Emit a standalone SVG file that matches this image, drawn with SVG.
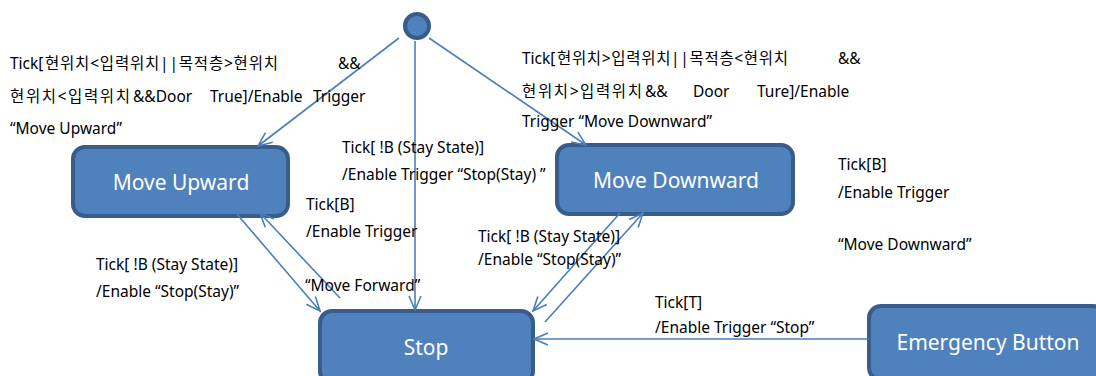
<svg xmlns="http://www.w3.org/2000/svg" width="1096" height="376" viewBox="0 0 1096 376">
  <style>
    .node rect { fill: #4f81bd; stroke: #385d8a; stroke-width: 4; }
    .node text { fill: #ffffff; font-family: "Noto Sans", "Noto Sans CJK KR", sans-serif; font-size: 21px; text-anchor: middle; }
    .conn line { stroke: #4a7ebb; stroke-width: 1.6; fill: none; marker-end: url(#arr); }
    .lbl { fill: #000000; font-family: "Noto Sans", "Noto Sans CJK KR", sans-serif; font-size: 15.5px; }
  </style>
  <defs>
    <marker id="arr" viewBox="0 0 16 14" refX="15" refY="7" markerWidth="16" markerHeight="14" markerUnits="userSpaceOnUse" orient="auto">
      <path d="M1,1 L15,7 L1,13" fill="none" stroke="#4a7ebb" stroke-width="1.6"/>
    </marker>
  </defs>
  <rect width="1096" height="376" fill="#ffffff"/>

  <g id="initial" class="node">
    <circle cx="417" cy="26" r="12" fill="#4f81bd" stroke="#385d8a" stroke-width="4"/>
  </g>
  <g id="move-upward" class="node">
    <rect x="73" y="147" width="215" height="69" rx="12"/>
    <text x="181" y="190">Move Upward</text>
  </g>
  <g id="move-downward" class="node">
    <rect x="557" y="145" width="236" height="69" rx="12"/>
    <text x="676" y="188">Move Downward</text>
  </g>
  <g id="stop" class="node">
    <rect x="320" y="311" width="213" height="72" rx="12"/>
    <text x="426" y="355">Stop</text>
  </g>
  <g id="emergency-button" class="node">
    <rect x="869" y="306" width="236" height="74" rx="12"/>
    <text x="988" y="350">Emergency Button</text>
  </g>

  <g id="connectors" class="conn">
    <line x1="399" y1="38" x2="258" y2="146"/>
    <line x1="429" y1="38" x2="586" y2="145"/>
    <line x1="415" y1="41" x2="415" y2="310"/>
    <line x1="236" y1="213" x2="320" y2="311"/>
    <line x1="340" y1="298" x2="260" y2="213"/>
    <line x1="620" y1="213" x2="533" y2="311"/>
    <line x1="545" y1="322" x2="643" y2="213"/>
    <line x1="869" y1="339" x2="534" y2="339"/>
  </g>

  <g id="labels" class="lbl">
    <text x="10" y="69">Tick[<tspan x="45" textLength="233" lengthAdjust="spacing">현위치&lt;입력위치||목적층&gt;현위치</tspan></text>
    <text x="338" y="69">&amp;&amp;</text>
    <text x="10" y="102"><tspan textLength="120" lengthAdjust="spacing">현위치&lt;입력위치</tspan><tspan x="133">&amp;&amp;Door</tspan></text>
    <text x="210" y="102">True]/Enable</text>
    <text x="313" y="102">Trigger</text>
    <text x="10" y="134">“Move Upward”</text>

    <text x="522" y="64">Tick[<tspan x="557" textLength="231" lengthAdjust="spacing">현위치&gt;입력위치||목적층&lt;현위치</tspan></text>
    <text x="838" y="64">&amp;&amp;</text>
    <text x="522" y="97"><tspan textLength="120" lengthAdjust="spacing">현위치&gt;입력위치</tspan><tspan x="645">&amp;&amp;</tspan></text>
    <text x="693" y="97">Door</text>
    <text x="757" y="97">Ture]/Enable</text>
    <text x="522" y="127">Trigger “Move Downward”</text>

    <text x="342" y="153">Tick[ !B (Stay State)]</text>
    <text x="342" y="180">/Enable Trigger “Stop(Stay) ”</text>

    <text x="306" y="210">Tick[B]</text>
    <text x="306" y="237">/Enable Trigger</text>
    <text x="305" y="291">“Move Forward”</text>

    <text x="96" y="270">Tick[ !B (Stay State)]</text>
    <text x="96" y="297">/Enable “Stop(Stay)”</text>

    <text x="478" y="242">Tick[ !B (Stay State)]</text>
    <text x="478" y="265">/Enable “Stop(Stay)”</text>

    <text x="838" y="170">Tick[B]</text>
    <text x="838" y="198">/Enable Trigger</text>
    <text x="838" y="250">“Move Downward”</text>

    <text x="655" y="308">Tick[T]</text>
    <text x="655" y="333">/Enable Trigger “Stop”</text>
  </g>
</svg>
